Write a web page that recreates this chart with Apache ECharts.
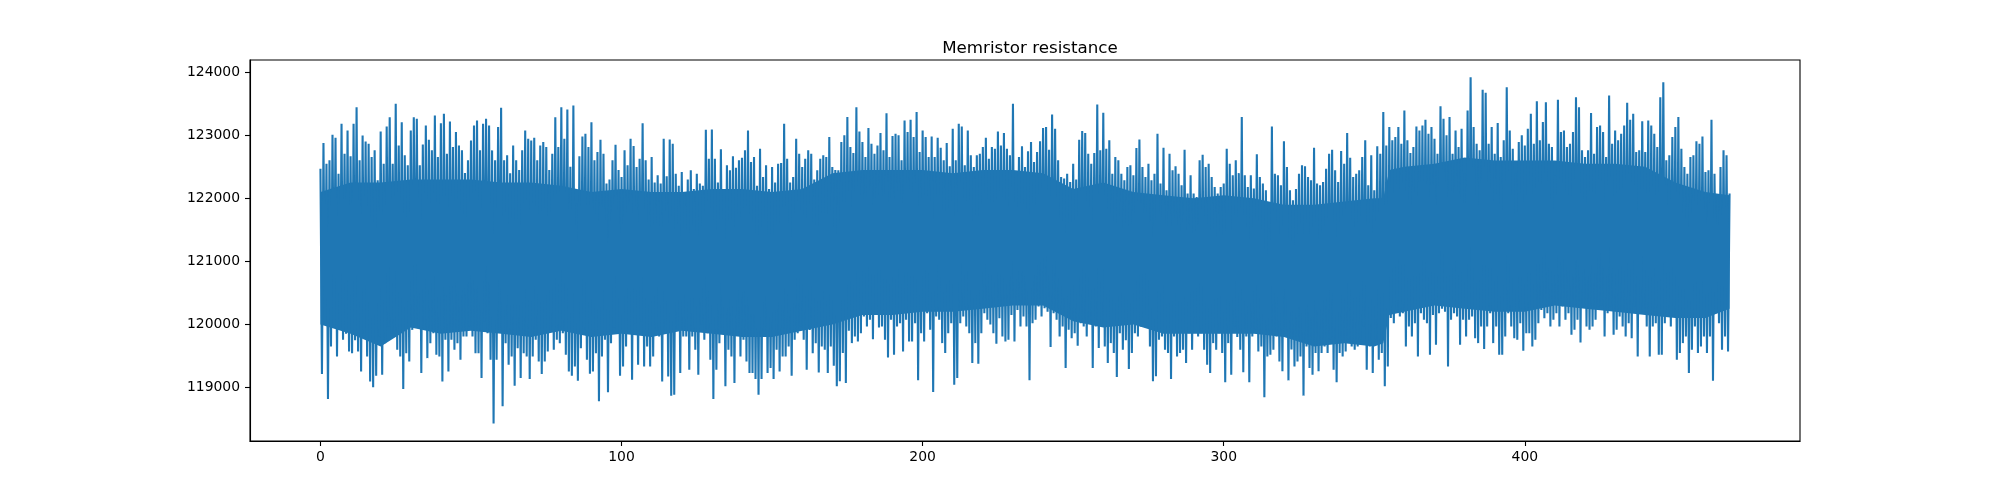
<!DOCTYPE html>
<html>
<head>
<meta charset="utf-8">
<title>Memristor resistance</title>
<script src="https://cdn.jsdelivr.net/npm/echarts@6.0.0/dist/echarts.min.js"></script>
<style>
  html, body { margin: 0; padding: 0; background: #fff; }
  #chart { width: 2000px; height: 496px; }
</style>
</head>
<body>
<div id="chart"></div>
<script>
// upper swing of the trace, one value per time unit (x = 0, 1, 2 ... 468)
var peaks = [
  122471, 122877, 122550, 122603, 123009, 122961, 122392, 123183, 122708, 123077,
  122666, 123183, 123447, 122603, 122998, 122900, 122867, 122656, 122761, 122287,
  123062, 122550, 123141, 123288, 122550, 123499, 122840, 123209, 122682, 122524,
  123078, 123288, 123262, 122524, 122856, 123157, 122930, 122761, 123315, 122656,
  123193, 123341, 122708, 123220, 122814, 123051, 122840, 122761, 122400, 122603,
  122919, 123157, 123236, 122761, 123183, 123262, 123157, 122761, 122603, 123130,
  123436, 122603, 122682, 122400, 122840, 122603, 122450, 122761, 123078, 122946,
  122919, 122961, 122603, 122840, 122893, 122814, 122450, 122708, 123288, 122814,
  123447, 122946, 123410, 122500, 123473, 121918, 122666, 122983, 123025, 122814,
  123209, 122603, 122735, 122930, 122708, 122234, 122300, 122603, 122851, 122450,
  122339, 122761, 122524, 122946, 122830, 122497, 122629, 123193, 122603, 122300,
  122656, 122250, 122366, 122234, 122946, 122350, 122935, 122867, 122392, 122200,
  122418, 122100, 122300, 122445, 122150, 122392, 122234, 122200, 123088, 122629,
  123093, 122629, 122250, 122777, 122150, 122524, 122445, 122666, 122487, 122603,
  122645, 122761, 123078, 122577, 122656, 122200, 122788, 122339, 122524, 122150,
  122497, 122250, 122550, 122560, 123183, 122629, 122250, 122339, 122946, 122708,
  122497, 122629, 122761, 122708, 122300, 122445, 122629, 122682, 122656, 122972,
  122498, 122450, 122445, 122893, 122999, 123289, 122814, 122719, 123447, 123062,
  122893, 122656, 123115, 122867, 122709, 122840, 123035, 122761, 123352, 122656,
  122988, 123025, 122999, 122603, 123236, 123051, 123246, 122972, 123368, 122735,
  123078, 122972, 122656, 122983, 122656, 122962, 122803, 122603, 122877, 122508,
  123104, 122603, 123183, 123141, 122524, 123078, 122682, 122498, 122682, 122709,
  122814, 122962, 122629, 122814, 122788, 123062, 122840, 123035, 122788, 122682,
  123500, 122419, 122656, 122825, 122498, 122746, 122893, 122577, 122735, 122904,
  123115, 123130, 122772, 123331, 123104, 122603, 122340, 122313, 122392, 122260,
  122550, 122300, 122930, 123067, 123035, 122709, 122550, 122719, 123489, 122761,
  123357, 122788, 122920, 122392, 122656, 122603, 122392, 122287, 122498, 122524,
  122366, 122798, 122935, 122498, 122340, 122550, 122287, 122392, 123025, 122234,
  122803, 122129, 122709, 122445, 122508, 122392, 122208, 122772, 122076, 122366,
  122076, 122023, 122603, 122693, 122498, 122550, 122340, 122181, 122076, 122181,
  122234, 122788, 122550, 122366, 122603, 122400, 123289, 122366, 122181, 122366,
  122155, 122698, 122340, 122234, 122129, 121522, 123141, 122392, 122366, 122208,
  122904, 122498, 122129, 121970, 122150, 122392, 122524, 122508, 122340, 122287,
  122803, 122234, 122208, 122260, 122471, 122709, 122772, 122445, 122260, 122751,
  122550, 123035, 122645, 122340, 122392, 122445, 122656, 122920, 122208, 122682,
  122129, 122825, 122709, 123368, 122840, 123131, 122920, 122972, 123131, 122867,
  123394, 122920, 122719, 122814, 123141, 123078, 123157, 123246, 123025, 123131,
  122946, 122709, 123463, 123262, 123000, 123289, 122709, 123078, 122814, 123104,
  122392, 123394, 123921, 123131, 122867, 122761, 123721, 123674, 122867, 123131,
  122709, 123194, 122656, 122920, 123763, 123078, 122788, 122392, 122893, 122999,
  122840, 123104, 123341, 122867, 123542, 122920, 123210, 123526, 122867, 122814,
  122366, 123563, 123051, 123078, 122814, 122867, 123051, 123605, 123447, 122761,
  122656, 122761, 123352, 122709, 123131, 123157, 123051, 122656, 123632, 122867,
  123078, 122920, 123025, 123157, 123515, 123246, 123341, 122735, 122761, 123225,
  122735, 123236, 123157, 123025, 122814, 123605, 123842, 122603, 122682, 122972,
  123131, 123289, 122788, 122498, 122392, 122656, 122682, 122904, 122867, 122983,
  122419, 122445, 123246, 122392, 122023, 122498, 122761, 122682, 122076
];

// lower swing of the trace, halfway between the peaks (x = 0.5, 1.5 ... 467.5)
var troughs = [
  119212, 120019, 118816, 119650, 120071, 119491, 119913, 119755, 119850, 119570,
  119544, 119750, 119570, 119254, 119860, 119491, 119096, 119001, 119186, 119808,
  119201, 119700, 119966, 119850, 119860, 119597, 119491, 118975, 119544, 119412,
  119913, 120019, 119966, 119228, 119913, 119465, 119702, 119860, 119518, 119491,
  119096, 119755, 119254, 119755, 119597, 119702, 119439, 119808, 119808, 119966,
  119808, 119544, 119544, 119149, 120045, 119860, 119439, 118426, 119439, 119913,
  118700, 119702, 119360, 119491, 119027, 119623, 119149, 119544, 119491, 119133,
  119491, 119755, 119412, 119212, 119412, 119570, 119913, 119597, 119755, 119702,
  119860, 119518, 119254, 119186, 119333, 119106, 119623, 119913, 119439, 119217,
  119254, 119544, 118780, 119491, 119755, 118922, 119702, 119950, 119860, 119186,
  119333, 119650, 119860, 119122, 120019, 119360, 120050, 119333, 119650, 119333,
  119491, 119900, 119808, 119096, 119860, 119175, 118869, 118885, 119940, 119228,
  119808, 119808, 119281, 119808, 119597, 119201, 120000, 119755, 119860, 119439,
  118816, 119281, 119702, 119860, 119017, 119597, 119491, 119069, 119860, 119491,
  119755, 119412, 119228, 119228, 119133, 118885, 119133, 119860, 119228, 119307,
  119133, 119597, 119254, 119491, 119491, 119650, 119186, 119755, 119860, 119966,
  119755, 119281, 119913, 119544, 119702, 119238, 119650, 119597, 119228, 119650,
  119344, 119017, 119097, 119545, 119070, 119900, 119703, 119808, 119729, 119861,
  120125, 119967, 120072, 119766, 120178, 119950, 119967, 119756, 119476, 120072,
  119518, 119967, 120019, 119571, 120072, 119729, 119729, 120019, 119112, 119861,
  119729, 120178, 119914, 118928, 120125, 120072, 119703, 119545, 119861, 120019,
  119044, 119149, 120019, 120125, 119967, 119861, 119386, 119703, 119376, 119861,
  120178, 120072, 120000, 119861, 119692, 120098, 119808, 119729, 119756, 120150,
  119729, 120230, 119967, 120125, 119967, 119112, 120019, 120072, 120283, 120125,
  120257, 120200, 119640, 120178, 120072, 119808, 119967, 119307, 119914, 119782,
  119861, 119661, 120019, 119967, 119808, 120050, 119307, 119967, 119624, 120019,
  119650, 119386, 119703, 119545, 119165, 119861, 119597, 119750, 119292, 119545,
  119861, 119808, 119967, 120230, 120150, 119650, 119097, 119176, 119756, 119808,
  119597, 119545, 119134, 119808, 119492, 119545, 119597, 119386, 119861, 119597,
  120100, 119808, 119861, 119597, 119360, 119228, 119703, 119597, 119861, 119545,
  119081, 119703, 119202, 119967, 119800, 119597, 119239, 119808, 119081, 119808,
  119914, 119571, 119650, 118843, 119492, 119518, 119597, 119808, 119413, 119255,
  119861, 119112, 119600, 119334, 119413, 119492, 118870, 119650, 119307, 119202,
  119545, 119255, 119545, 119650, 119545, 119756, 119281, 119081, 119545, 119492,
  119571, 119756, 119650, 119597, 119650, 119756, 119967, 119281, 119650, 119228,
  119756, 119439, 119545, 119017, 119334, 120100, 120019, 120230, 120125, 120178,
  119650, 119967, 119808, 120019, 119492, 120178, 120072, 120019, 119518, 120150,
  119676, 120178, 120250, 120200, 119334, 120072, 120178, 120125, 119676, 120072,
  119808, 120072, 120125, 119782, 119703, 119967, 119608, 119967, 120178, 119703,
  119967, 119518, 119518, 119808, 120178, 119967, 119782, 119756, 120019, 119582,
  119861, 119861, 119650, 119756, 120019, 120230, 120098, 120178, 119967, 120072,
  120178, 119967, 120283, 120072, 120178, 119835, 119914, 120072, 119713, 120283,
  119967, 119914, 119967, 120072, 120283, 120300, 119808, 120178, 120283, 119835,
  119914, 120125, 119967, 119808, 120019, 119782, 120283, 119492, 120178, 120178,
  119967, 119492, 119967, 120019, 119518, 119518, 120019, 120125, 119967, 120125,
  119439, 119545, 119703, 119808, 119228, 119597, 119967, 119545, 119650, 119808,
  119545, 119808, 119107, 120178, 120019, 119597, 119808, 119571
];

// edges of the solid, densely sampled core of the trace
var coreX = [
  0, 10, 20, 30, 40, 50, 60, 70, 80, 90, 100, 110, 120, 130, 140, 150,
  160, 170, 180, 190, 200, 210, 220, 230, 240, 250, 260, 270, 280, 290, 300, 310,
  320, 330, 340, 350, 353, 355, 360, 370, 380, 390, 400, 410, 420, 430, 440, 450, 460, 468
];
var coreTop = [
  122100, 122250, 122250, 122300, 122300, 122300, 122250, 122250, 122200, 122100, 122150, 122100, 122100, 122150, 122150, 122100,
  122150, 122400, 122450, 122450, 122450, 122400, 122450, 122450, 122400, 122150, 122250, 122100, 122050, 122000, 122050, 122000,
  121900, 121900, 121950, 122000, 122000, 122450, 122500, 122550, 122650, 122600, 122600, 122600, 122550, 122550, 122500, 122250, 122100, 122050
];
var coreBottom = [
  120000, 119850, 119650, 119950, 119850, 119900, 119850, 119800, 119900, 119800, 119850, 119800, 119900, 119850, 119800, 119800,
  119900, 120000, 120150, 120150, 120200, 120200, 120250, 120300, 120300, 120050, 119950, 120000, 119850, 119850, 119850, 119850,
  119800, 119650, 119700, 119650, 119700, 120150, 120200, 120300, 120250, 120200, 120200, 120300, 120250, 120200, 120150, 120100, 120100, 120250
];

var xTicks = [0, 100, 200, 300, 400];
var yTicks = [119000, 120000, 121000, 122000, 123000, 124000];

// peak, trough, peak, trough ... in time order
var trace = [];
for (var i = 0; i < peaks.length; i++) {
  trace.push([i, peaks[i]]);
  if (i < troughs.length) trace.push([i + 0.5, troughs[i]]);
}

var chartDom = document.getElementById("chart");
var myChart = echarts.init(chartDom, null, { renderer: "canvas" });
var font = "DejaVu Sans";
var blue = "#1f77b4";

// solid core drawn as one polygon through the axis scales
function renderCore(params, api) {
  var pts = [];
  for (var k = 0; k < coreX.length; k++) pts.push(api.coord([coreX[k], coreTop[k]]));
  for (var k2 = coreX.length - 1; k2 >= 0; k2--) pts.push(api.coord([coreX[k2], coreBottom[k2]]));
  return {
    type: "polygon",
    shape: { points: pts },
    style: { fill: blue, stroke: null }
  };
}

var option = {
  animation: false,
  backgroundColor: "#ffffff",
  title: {
    text: "Memristor resistance",
    left: 1025,
    top: 35,
    textAlign: "center",
    textStyle: { fontFamily: font, fontSize: 16.7, fontWeight: "normal", color: "#000" }
  },
  grid: {
    left: 250,
    right: 200,
    top: 60,
    bottom: 55,
    show: true,
    borderColor: "#000",
    borderWidth: 1.1,
    backgroundColor: "transparent"
  },
  xAxis: {
    type: "value",
    min: -23.4,
    max: 491.4,
    splitLine: { show: false },
    axisLine: { show: true, onZero: false, lineStyle: { color: "#000", width: 1.1 } },
    axisTick: { show: true, length: 5, lineStyle: { color: "#000", width: 1.1 }, customValues: xTicks },
    axisLabel: {
      customValues: xTicks,
      margin: 9,
      fontFamily: font,
      fontSize: 13.9,
      color: "#000"
    }
  },
  yAxis: {
    type: "value",
    min: 118150,
    max: 124195,
    splitLine: { show: false },
    axisLine: { show: true, onZero: false, lineStyle: { color: "#000", width: 1.1 } },
    axisTick: { show: true, length: 5, lineStyle: { color: "#000", width: 1.1 }, customValues: yTicks },
    axisLabel: {
      customValues: yTicks,
      margin: 10,
      fontFamily: font,
      fontSize: 13.9,
      color: "#000",
      formatter: function (v) { return String(v); }
    }
  },
  series: [
    {
      name: "core",
      type: "custom",
      silent: true,
      z: 1,
      data: [[coreX[0], coreTop[0]]],
      encode: { x: 0, y: 1 },
      renderItem: renderCore
    },
    {
      name: "resistance",
      type: "line",
      z: 2,
      data: trace,
      symbol: "none",
      silent: true,
      sampling: "none",
      lineStyle: { color: blue, width: 2.1, join: "miter" }
    }
  ]
};

option && myChart.setOption(option);
</script>
</body>
</html>
